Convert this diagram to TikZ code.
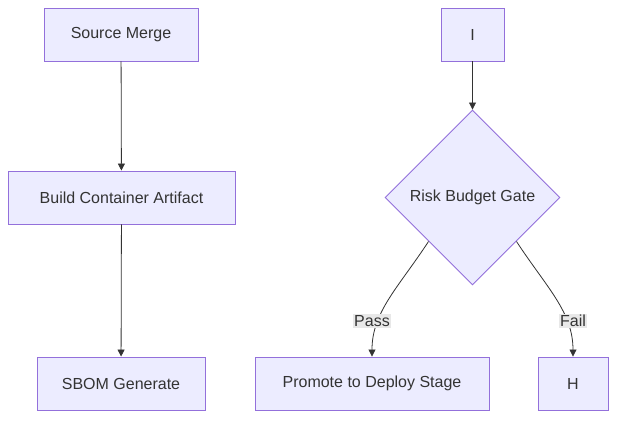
\documentclass[tikz,border=0pt]{standalone}
\usepackage{fontspec}
\setmainfont{Liberation Sans}
\usetikzlibrary{shapes.geometric,arrows.meta}
\definecolor{nodefill}{HTML}{ECECFF}
\definecolor{nodeline}{HTML}{9370DB}
\definecolor{edgecol}{HTML}{333333}
\definecolor{labbg}{HTML}{E8E8E8}
\tikzset{
  box/.style={draw=nodeline, fill=nodefill, line width=0.9pt, inner sep=0pt, text=edgecol, font=\fontsize{16}{18}\selectfont},
  gatebox/.style={box, shape=diamond, aspect=1, minimum width=175pt, minimum height=175pt},
  conn/.style={draw=edgecol, line width=0.8pt, -{Triangle[length=7pt,width=7pt]}},
  elabel/.style={fill=labbg, text=edgecol, inner sep=1.5pt, font=\fontsize{16}{18}\selectfont}
}
\begin{document}
\begin{tikzpicture}[x=1pt,y=-1pt]
\useasboundingbox[fill=white] (0,0) rectangle (624,425);
\node[box, minimum width=154pt, minimum height=53pt] (src) at (121,34.5) {Source Merge};
\node[box, minimum width=227pt, minimum height=53pt] (build) at (121.5,197.5) {Build Container Artifact};
\node[box, minimum width=168pt, minimum height=53pt] (sbom) at (121,383.5) {SBOM Generate};
\node[box, minimum width=63pt, minimum height=53pt] (i) at (472.5,34.5) {I};
\node[gatebox] (gate) at (472.5,197.5) {Risk Budget Gate};
\node[box, minimum width=234pt, minimum height=53pt] (prom) at (372,383.5) {Promote to Deploy Stage};
\node[box, minimum width=70pt, minimum height=53pt] (h) at (573,383.5) {H};
\draw[conn] (src) -- (build);
\draw[conn] (build) -- (sbom);
\draw[conn] (i) -- (gate);
\draw[conn] (gate.south west) .. controls (398,288) and (372,312) .. (prom.north);
\draw[conn] (gate.south east) .. controls (547,288) and (573,312) .. (h.north);
\node[elabel] (pass) at (372,321) {Pass};
\node[elabel] (fail) at (573,321) {Fail};
\end{tikzpicture}
\end{document}
